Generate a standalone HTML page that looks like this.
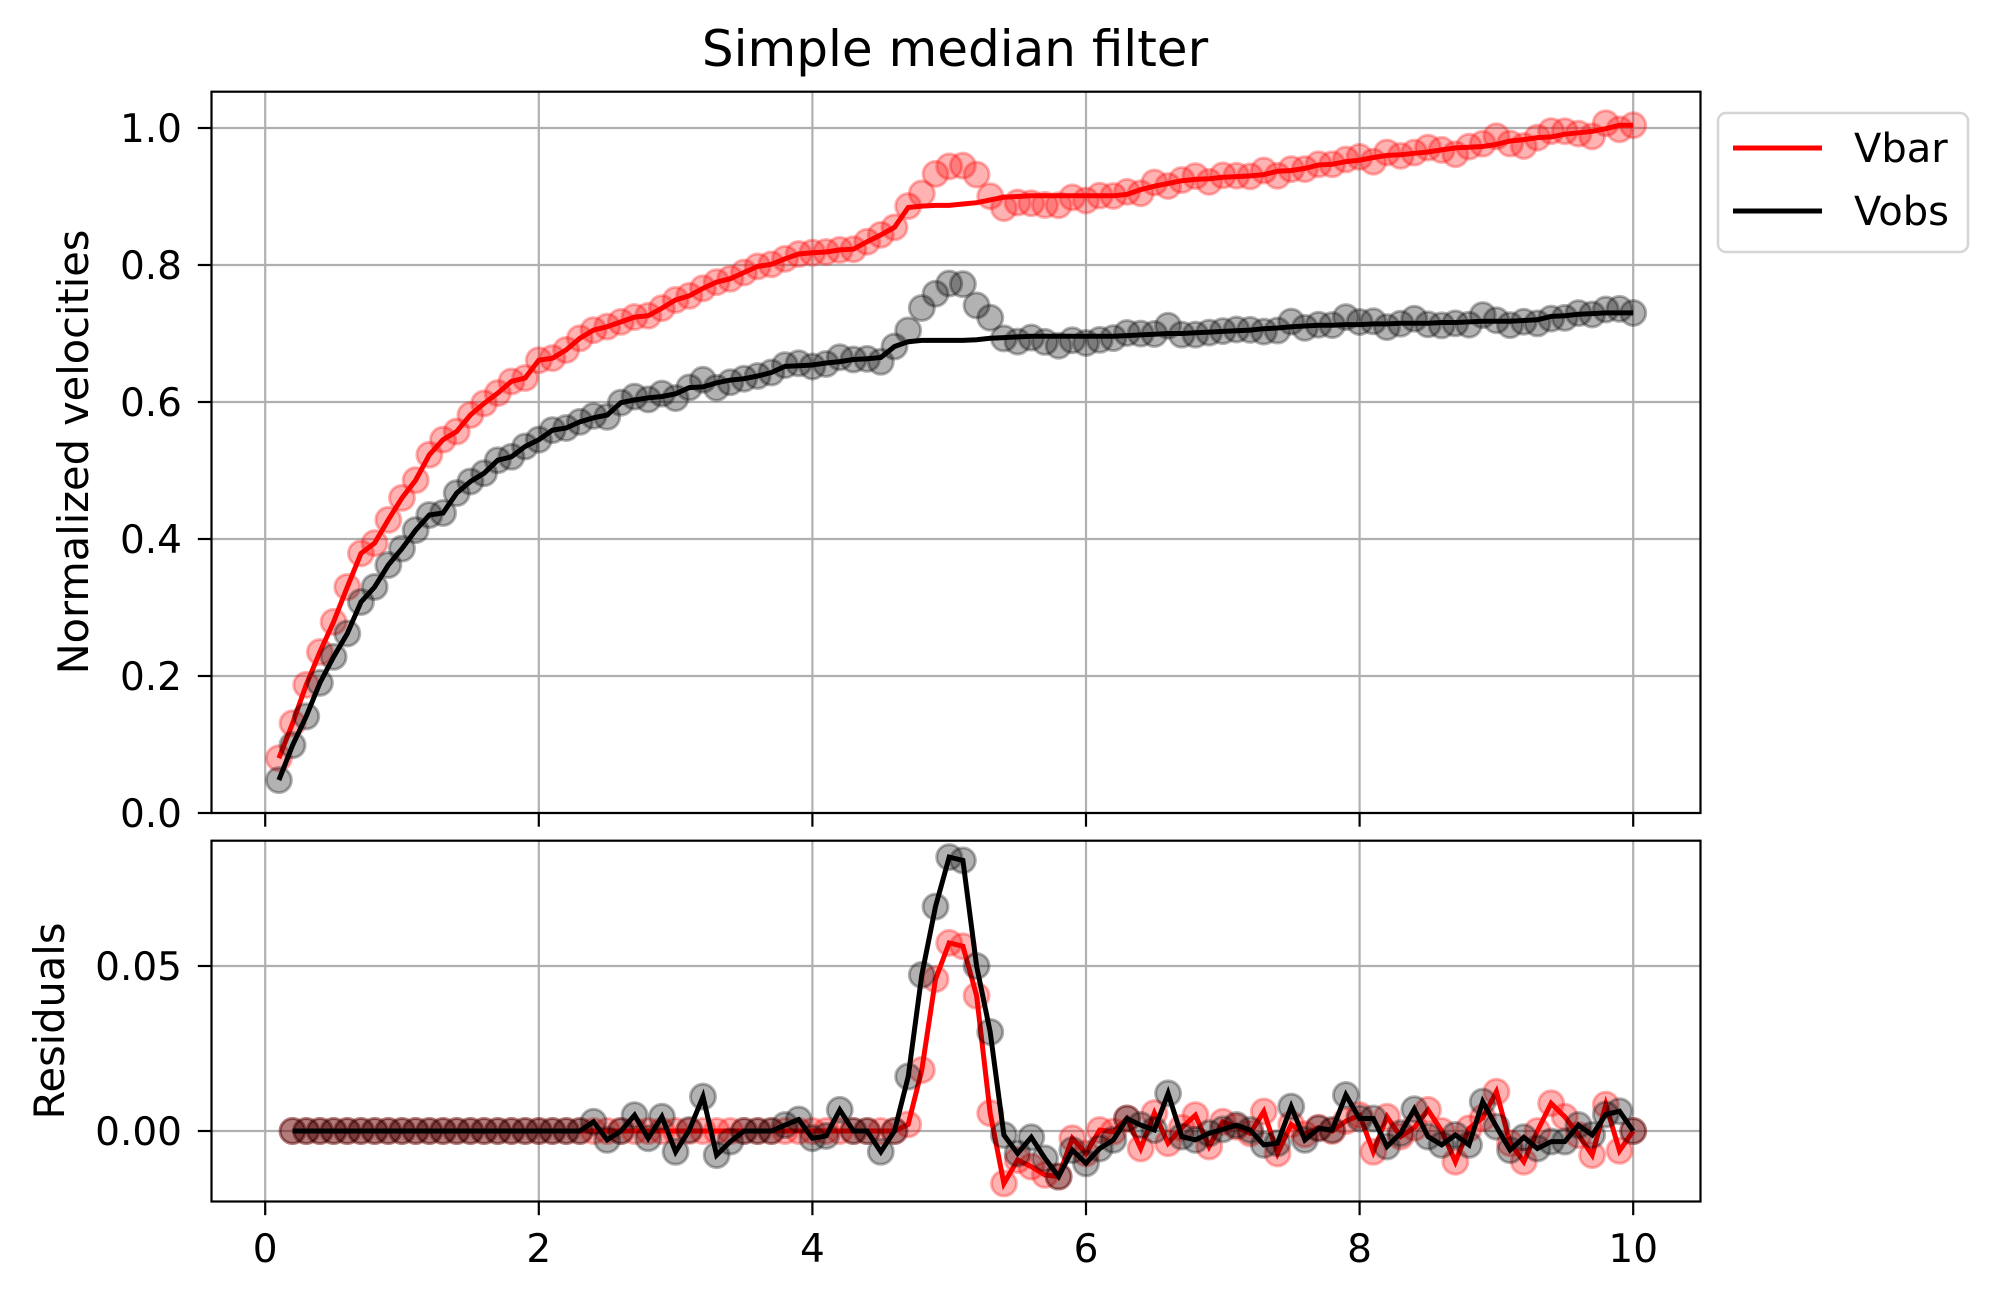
<!DOCTYPE html>
<html><head><meta charset="utf-8"><style>
html,body{margin:0;padding:0;background:#fff;}
svg text{font-family:"DejaVu Sans","Liberation Sans",sans-serif;}
</style></head><body>
<svg id="chart" xmlns="http://www.w3.org/2000/svg" width="1998" height="1302" viewBox="0 0 1998 1302">
<rect width="1998" height="1302" fill="#fff"/>
<g id="top"></g>
<g id="bot"></g>
<text x="955" y="66" font-size="50" text-anchor="middle">Simple median filter</text>
<text transform="translate(88,452) rotate(-90)" font-size="41.5" text-anchor="middle">Normalized velocities</text>
<text transform="translate(64,1021) rotate(-90)" font-size="41.5" text-anchor="middle">Residuals</text>
<g>
<rect x="1718" y="113" width="250" height="139" rx="8" fill="#fff" fill-opacity="0.8" stroke="#d5d5d5" stroke-width="2.5"/>
<g><line x1="1733" y1="148" x2="1822" y2="148" stroke="#ff0000" stroke-width="5"/><text x="1854" y="162" font-size="40">Vbar</text></g>
<g><line x1="1733" y1="211" x2="1822" y2="211" stroke="#000" stroke-width="5"/><text x="1854" y="225" font-size="40">Vobs</text></g>
</g>
</svg>
<script>
const xVals = [];
for (let i = 1; i <= 100; i++) xVals.push(i / 10);
const vbarMed = [0.080,0.131,0.187,0.235,0.279,0.330,0.379,0.394,0.428,0.460,
0.486,0.523,0.545,0.557,0.581,0.598,0.613,0.630,0.635,0.661,
0.664,0.676,0.693,0.705,0.710,0.717,0.724,0.726,0.737,0.749,
0.755,0.766,0.775,0.780,0.789,0.798,0.801,0.809,0.816,0.818,
0.819,0.822,0.823,0.834,0.844,0.855,0.884,0.886,0.887,0.887,
0.889,0.891,0.895,0.899,0.900,0.901,0.901,0.901,0.901,0.901,
0.901,0.901,0.903,0.910,0.915,0.919,0.923,0.925,0.926,0.928,
0.929,0.930,0.932,0.937,0.938,0.941,0.946,0.947,0.951,0.953,
0.957,0.960,0.961,0.963,0.965,0.968,0.971,0.972,0.973,0.976,
0.981,0.983,0.986,0.987,0.991,0.993,0.995,0.999,1.004,1.004];
const vobsMed = [0.048,0.099,0.141,0.190,0.228,0.262,0.308,0.330,0.362,0.386,
0.413,0.435,0.438,0.467,0.484,0.496,0.515,0.520,0.535,0.545,
0.559,0.562,0.571,0.577,0.581,0.599,0.603,0.606,0.608,0.612,
0.621,0.622,0.628,0.632,0.634,0.638,0.643,0.652,0.653,0.654,
0.657,0.659,0.662,0.663,0.665,0.681,0.688,0.690,0.690,0.690,
0.690,0.691,0.693,0.694,0.695,0.696,0.696,0.696,0.696,0.696,
0.696,0.696,0.697,0.698,0.699,0.700,0.700,0.701,0.702,0.703,
0.704,0.705,0.707,0.708,0.710,0.711,0.712,0.712,0.713,0.713,
0.714,0.714,0.715,0.715,0.715,0.716,0.716,0.717,0.718,0.718,
0.718,0.719,0.720,0.725,0.726,0.728,0.729,0.730,0.730,0.730];
const vbarRes = [0,0,0,0,0,0,0,0,0,0, 0,0,0,0,0,0,0,0,0,0, 0,0,0,0,0,0,0,0,0,0, 0,0,0,0,0,0,0,0,0,0, 0,0,0,0,0,0,
0.002,0.0185,0.046,0.057,0.056,0.041,0.0054,-0.0159,-0.0088,-0.0108,-0.0133,-0.0138,-0.0022,-0.0068,
0.0003,-0.0002,0.0038,-0.0053,0.0054,-0.0037,0.001,0.0048,-0.0047,0.0028,
0.0013,-0.0007,0.0059,-0.0068,0.002,-0.001,0.001,0.000,0.003,0.0048,
-0.0063,0.0043,-0.0017,0.001,0.0064,0,-0.0093,0.0008,0.004,0.0119,
-0.0037,-0.0093,0,0.0084,0.0043,-0.0012,-0.0073,0.008,-0.006,0];
const vobsRes = [0,0,0,0,0,0,0,0,0,0, 0,0,0,0,0,0,0,0,0,0, 0,0,0,
0.0028,-0.0027,0,0.0048,-0.0022,0.0043,-0.0063,
0.0003,0.0104,-0.0073,-0.0032,0,0,0,0.0018,0.0035,-0.0022,
-0.0015,0.0064,0,0,-0.0063,0,0.0165,0.0473,0.068,0.083,
0.082,0.050,0.030,-0.0012,-0.0068,-0.0019,-0.0083,-0.0138,-0.0058,-0.0098,
-0.0053,-0.0027,0.0038,0.0018,0.0003,0.0114,-0.0017,-0.0027,-0.0007,0.0005,
0.0018,0.0003,-0.0042,-0.0037,0.0074,-0.0027,0.0008,0.0003,0.0109,0.0038,
0.0038,-0.0047,-0.0007,0.0066,-0.0017,-0.0042,-0.0012,-0.0042,0.0089,0.0013,
-0.0058,-0.0019,-0.0053,-0.0032,-0.0032,0.0018,-0.0012,0.005,0.006,0];
const xTicks = [0,2,4,6,8,10];
const xTickLabels = ["0","2","4","6","8","10"];
const yTopTicks = [0,0.2,0.4,0.6,0.8,1.0];
const yTopLabels = ["0.0","0.2","0.4","0.6","0.8","1.0"];
const yBotTicks = [0,0.05];
const yBotLabels = ["0.00","0.05"];

const NS = "http://www.w3.org/2000/svg";
const L = 211.5, R = 1700.5;
function sx(x){ return 265.2 + (x) * 136.8; }
function syTop(v){ return 813 - v * 685; }
function syBot(v){ return 1131 - v * 3300; }
function mk(tag, attrs, parent){
  const e = document.createElementNS(NS, tag);
  for (const k in attrs) e.setAttribute(k, attrs[k]);
  parent.appendChild(e); return e;
}
function panel(g, top, bot, sy, yt, ylab, showXLabels, series){
  xTicks.forEach(t=>{
    const l = mk('line',{x1:sx(t),x2:sx(t),y1:top,y2:bot,stroke:'#b0b0b0','stroke-width':2.2},g);
    
    
  });
  yt.forEach(t=>{
    const l = mk('line',{x1:L,x2:R,y1:sy(t),y2:sy(t),stroke:'#b0b0b0','stroke-width':2.2},g);
    
    
  });
  const clip = mk('clipPath',{id:'c'+Math.round(top)},g);
  mk('rect',{x:L,y:top,width:R-L,height:bot-top},clip);
  const plot = mk('g',{'clip-path':'url(#c'+Math.round(top)+')'},g);
  series.forEach(s=>{
    const sg = mk('g',{},plot);
    
    
    s.pts.forEach(p=>{
      const c = mk('circle',{cx:sx(p[0]),cy:sy(p[1]),r:12.5,fill:s.color,'fill-opacity':0.3,stroke:s.color,'stroke-opacity':0.3,'stroke-width':3},sg);
      
      
    });
    const d = s.line.map((p,i)=>(i?'L':'M')+sx(p[0]).toFixed(1)+' '+sy(p[1]).toFixed(1)).join(' ');
    const pl = mk('path',{d:d,fill:'none',stroke:s.color,'stroke-width':5,'stroke-linejoin':'miter','stroke-miterlimit':4},plot);
    
    
  });
  const sp = mk('rect',{x:L,y:top,width:R-L,height:bot-top,fill:'none',stroke:'#000','stroke-width':2.2},g);
  
  
  xTicks.forEach((t,i)=>{
    mk('line',{x1:sx(t),x2:sx(t),y1:bot,y2:bot+13.7,stroke:'#000','stroke-width':2.2},g);
    if (showXLabels){
      const tx = mk('text',{x:sx(t),y:1262,'font-size':39,'text-anchor':'middle'},g);
      tx.textContent = xTickLabels[i];
      
      
    }
  });
  yt.forEach((t,i)=>{
    mk('line',{x1:L-13.7,x2:L,y1:sy(t),y2:sy(t),stroke:'#000','stroke-width':2.2},g);
    const tx = mk('text',{x:182,y:sy(t)+14,'font-size':39,'text-anchor':'end'},g);
    tx.textContent = ylab[i];
    
    
  });
}
const vbarPts = xVals.map((x,i)=>[x, vbarMed[i]+vbarRes[i]]);
const vobsPts = xVals.map((x,i)=>[x, vobsMed[i]+vobsRes[i]]);
panel(document.getElementById('top'), 91.7, 813, syTop, yTopTicks, yTopLabels, false, [
  {name:'vbar', color:'#ff0000', pts:vbarPts, line:xVals.map((x,i)=>[x,vbarMed[i]])},
  {name:'vobs', color:'#000000', pts:vobsPts, line:xVals.map((x,i)=>[x,vobsMed[i]])}
]);
const resR = xVals.map((x,i)=>[x, vbarPts[i][1]-vbarMed[i]]).slice(1);
const resB = xVals.map((x,i)=>[x, vobsPts[i][1]-vobsMed[i]]).slice(1);
panel(document.getElementById('bot'), 840.7, 1201.5, syBot, yBotTicks, yBotLabels, true, [
  {name:'vbar-residual', color:'#ff0000', pts:resR, line:resR},
  {name:'vobs-residual', color:'#000000', pts:resB, line:resB}
]);
</script>
</body></html>
